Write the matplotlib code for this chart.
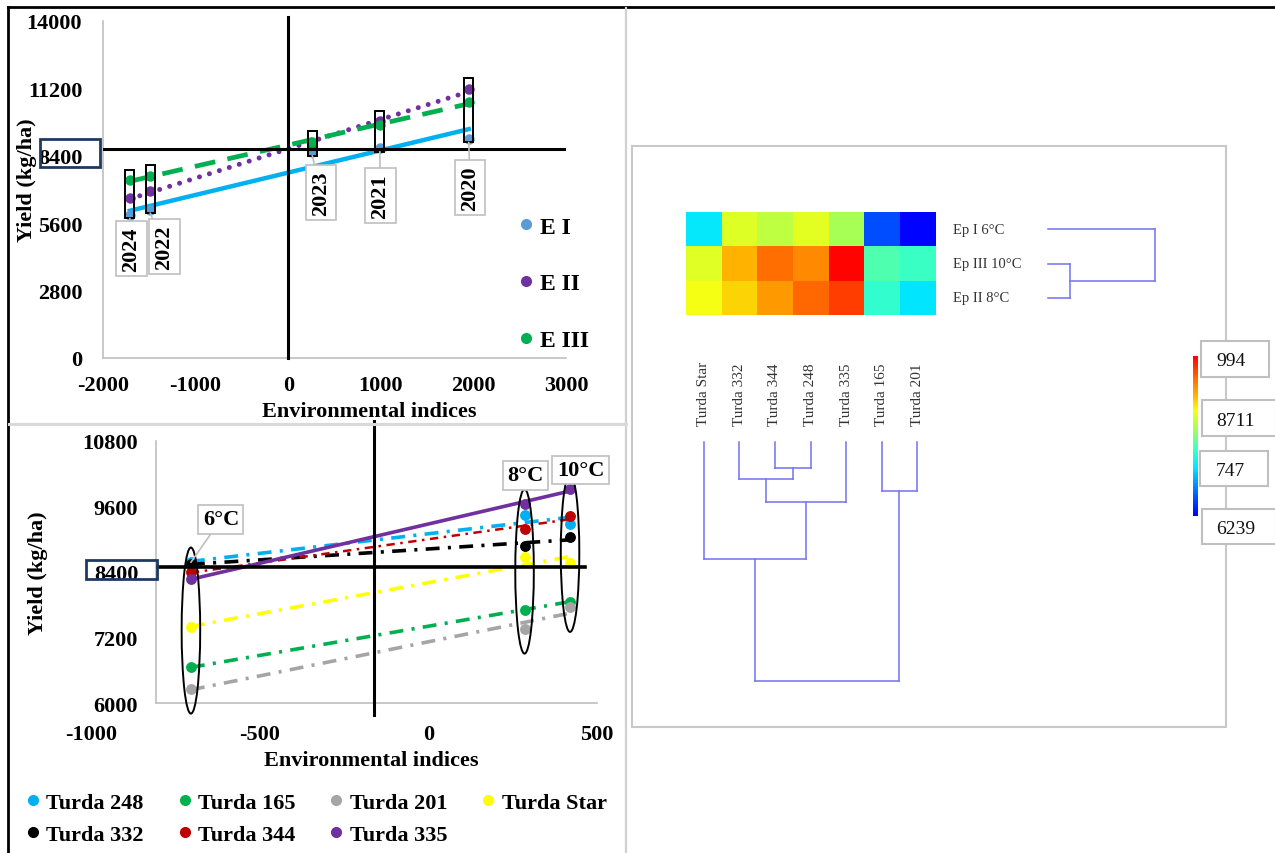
import numpy as np
import matplotlib
matplotlib.use('Agg')
import matplotlib.pyplot as plt
from matplotlib.patches import Rectangle, Ellipse
from matplotlib.lines import Line2D
from matplotlib.colors import LinearSegmentedColormap

W, H = 1275, 854
DPI = 100
plt.rcParams['font.family'] = ['Liberation Serif', 'DejaVu Serif']
plt.rcParams['font.weight'] = 'bold'
plt.rcParams['axes.unicode_minus'] = False
plt.rcParams['lines.scale_dashes'] = False

# ---------------- Data: top chart (years) ----------------
years = ['2020', '2021', '2022', '2023', '2024']
env_index_years = [1950, 990, -1490, 260, -1710]
yield_EI = [9110, 8722, 6169, 8556, 5950]
yield_EII = [11190, 9830, 6918, 8860, 6655]
yield_EIII = [10636, 9692, 7557, 8972, 7375]
top_series = ['E I', 'E II', 'E III']
top_ticks_x = [-2000, -1000, 0, 1000, 2000, 3000]
top_ticks_y = [0, 2800, 5600, 8400, 11200, 14000]
mean_top = 8694

# ---------------- Data: bottom chart (temperatures) ----------------
temps = ['6°C', '8°C', '10°C']
env_index_temp = [-705, 285, 420]
y_248 = [8575, 9441, 9276]
y_165 = [6653, 7708, 7855]
y_201 = [6256, 7354, 7751]
y_star = [7385, 8667, 8557]
y_332 = [8544, 8880, 9033]
y_344 = [8392, 9185, 9415]
y_335 = [8269, 9642, 9917]
cultivars = ['Turda 248', 'Turda 165', 'Turda 201', 'Turda Star',
             'Turda 332', 'Turda 344', 'Turda 335']
bot_ticks_x = [-1000, -500, 0, 500]
bot_ticks_y = [6000, 7200, 8400, 9600, 10800]
mean_bottom = 8490
vline_bottom = -162

# ---------------- Data: heatmap / dendrograms ----------------
heat_cols = ['Turda Star', 'Turda 332', 'Turda 344', 'Turda 248',
             'Turda 335', 'Turda 165', 'Turda 201']
heat_rows = ['Ep I 6°C', 'Ep III 10°C', 'Ep II 8°C']
heat_row_temp_idx = [0, 2, 1]
col_merges = [(2, 3, 26), (1, 7, 37), (8, 4, 60), (5, 6, 49), (0, 9, 117), (11, 10, 239)]
row_merges = [(1, 2, 22), (0, 3, 107)]
cbar_labels = ['994', '8711', '747', '6239']
vmin, vmax = 6239, 9944

# ---------------- helpers ----------------
def fx(px):
    return px / W

def fy(py):
    return 1 - py / H

fig = plt.figure(figsize=(W / DPI, H / DPI), dpi=DPI)
fig.patch.set_facecolor('white')

def fig_line(x0, y0, x1, y1, color, lw):
    fig.add_artist(Line2D([fx(x0), fx(x1)], [fy(y0), fy(y1)], color=color, lw=lw,
                          transform=fig.transFigure))

def fig_rect(x0, y0, x1, y1, ec, lw, fc='none', z=1):
    fig.add_artist(Rectangle((fx(x0), fy(y1)), (x1 - x0) / W, (y1 - y0) / H,
                             transform=fig.transFigure, fc=fc, ec=ec, lw=lw, zorder=z))

# ======================= TOP CHART =======================
ax1 = fig.add_axes([fx(103), fy(359), 463 / W, 337 / H])
for s in ['top', 'right']:
    ax1.spines[s].set_visible(False)
for s in ['left', 'bottom']:
    ax1.spines[s].set_color('#bfbfbf')
    ax1.spines[s].set_linewidth(1.2)
ax1.set_xlim(-2000, 3000)
ax1.set_ylim(0, 14000)
ax1.set_xticks(top_ticks_x)
ax1.set_yticks(top_ticks_y)
ax1.tick_params(length=0, labelsize=16)
ax1.tick_params(axis='y', pad=15)
ax1.tick_params(axis='x', pad=12)

top_data = [yield_EI, yield_EII, yield_EIII]
pt_colors = ['#5B9BD5', '#7030A0', '#00B050']
ln_colors = ['#00B0F0', '#7030A0', '#00B050']
ln_styles = [dict(ls='-'), dict(dashes=(0.01, 7.5), dash_capstyle='round'), dict(dashes=(15, 9))]
ln_widths = [3.2, 3.6, 3.4]
xs = np.array(env_index_years, dtype=float)
for ys, pc, lc, st, lw in zip(top_data, pt_colors, ln_colors, ln_styles, ln_widths):
    ax1.plot(xs, ys, 'o', color=pc, ms=6.5, zorder=3, ls='none')
    coef = np.polyfit(xs, ys, 1)
    xe = np.array([xs.min(), xs.max()])
    ax1.plot(xe, np.polyval(coef, xe), color=lc, lw=lw, zorder=2, **st)

ax1.plot([-2000, 2980], [mean_top, mean_top], color='black', lw=2.2, zorder=4)
ax1.plot([0, 0], [0, 14150], color='black', lw=2.2, zorder=4, clip_on=False)

year_label_pos = [(1965, 7072), (994, 6739), (-1339, 4638), (356, 6864), (-1695, 4534)]
for i, yr in enumerate(years):
    vals = [d[i] for d in top_data]
    x = env_index_years[i]
    ax1.add_patch(Rectangle((x - 48, min(vals) - 150), 96, max(vals) - min(vals) + 600,
                            fill=False, ec='black', lw=1.4, zorder=5))
    ax1.annotate(yr, xy=(x, min(vals) - 150), xytext=year_label_pos[i], textcoords='data',
                 rotation=90, ha='center', va='center', fontsize=16, fontweight='bold',
                 bbox=dict(boxstyle='square,pad=0.24', fc='white', ec='#bfbfbf', lw=1.2),
                 arrowprops=dict(arrowstyle='-', color='#bfbfbf', lw=1.2, shrinkA=0, shrinkB=0),
                 zorder=6)

ax1.set_xlabel('Environmental indices', fontsize=16, fontweight='bold')
ax1.xaxis.set_label_coords(0.574, -0.128)
ax1.set_ylabel('Yield (kg/ha)', fontsize=16, fontweight='bold')
ax1.yaxis.set_label_coords(-0.1425, 0.53)

top_handles = [Line2D([], [], marker='o', ls='none', color=c, ms=7) for c in pt_colors]
ax1.legend(top_handles, top_series, loc='upper left', bbox_to_anchor=(fx(520), fy(217)),
           bbox_transform=fig.transFigure, frameon=False,
           prop=dict(weight='bold', size=17), labelspacing=1.5, handlelength=0.5,
           handletextpad=0.35, borderpad=0, borderaxespad=0)

# ======================= BOTTOM CHART =======================
ax2 = fig.add_axes([fx(91.5), fy(704), 505.5 / W, 262.3 / H])
for s in ['top', 'right']:
    ax2.spines[s].set_visible(False)
for s in ['left', 'bottom']:
    ax2.spines[s].set_color('#bfbfbf')
    ax2.spines[s].set_linewidth(1.2)
ax2.spines['left'].set_position(('data', -808))
ax2.spines['bottom'].set_bounds(-808, 500)
ax2.set_xlim(-1000, 500)
ax2.set_ylim(6000, 10800)
ax2.set_xticks(bot_ticks_x)
ax2.set_yticks(bot_ticks_y)
ax2.tick_params(length=0, labelsize=16)
ax2.tick_params(axis='y', pad=13)
ax2.tick_params(axis='x', pad=15)

bot_data = [y_248, y_165, y_201, y_star, y_332, y_344, y_335]
bot_colors = ['#00B0F0', '#00B050', '#A5A5A5', '#FFFF00', '#000000', '#C00000', '#7030A0']
dashdot = (10, 6, 2.2, 6)
bot_styles = [dict(dashes=dashdot)] * 5 + [dict(dashes=(6, 4, 1.8, 4)), dict(ls='-')]
bot_widths = [2.6, 2.6, 2.6, 2.6, 2.6, 1.8, 2.6]
xt = np.array(env_index_temp, dtype=float)
for ys, c, st, lw in zip(bot_data, bot_colors, bot_styles, bot_widths):
    coef = np.polyfit(xt, ys, 1)
    xe = np.array([xt.min(), xt.max()])
    ax2.plot(xe, np.polyval(coef, xe), color=c, lw=lw, zorder=2, **st)
for ys, c in zip(bot_data, bot_colors):
    ax2.plot(xt, ys, 'o', color=c, ms=6.8, zorder=3, ls='none')

ax2.plot([-803, 464], [mean_bottom, mean_bottom], color='black', lw=2.6, zorder=4)
ax2.plot([vline_bottom, vline_bottom], [5780, 11160], color='black', lw=2.2, zorder=4, clip_on=False)

temp_label_pos = [(-616, 9358), (288, 10164), (451, 10264)]
for j, t in enumerate(temps):
    vals = [d[j] for d in bot_data]
    lo, hi = min(vals) - 450, max(vals) + 270
    ax2.add_patch(Ellipse((env_index_temp[j], (lo + hi) / 2), 55, hi - lo,
                          fill=False, ec='black', lw=1.4, zorder=5, clip_on=False))
    ax2.annotate(t, xy=(env_index_temp[j], hi if j else max(vals)), xytext=temp_label_pos[j],
                 textcoords='data', ha='center', va='center', fontsize=16, fontweight='bold',
                 bbox=dict(boxstyle='square,pad=0.2', fc='white', ec='#bfbfbf', lw=1.2),
                 arrowprops=dict(arrowstyle='-', color='#bfbfbf', lw=1.2, shrinkA=0, shrinkB=0),
                 zorder=6, annotation_clip=False)

ax2.set_xlabel('Environmental indices', fontsize=16, fontweight='bold')
ax2.xaxis.set_label_coords(0.554, -0.178)
ax2.set_ylabel('Yield (kg/ha)', fontsize=16, fontweight='bold')
ax2.yaxis.set_label_coords(-0.086, 0.5)

order = [0, 4, 1, 5, 2, 6, 3]
bot_handles = [Line2D([], [], marker='o', ls='none', color=bot_colors[i], ms=7) for i in order]
fig.legend(bot_handles, [cultivars[i] for i in order], ncol=4, loc='upper left',
           bbox_to_anchor=(fx(27), fy(793)), frameon=False,
           prop=dict(weight='bold', size=16), labelspacing=0.52, handlelength=0.5,
           handletextpad=0.35, columnspacing=1.6, borderpad=0, borderaxespad=0)

# navy boxes around the 8400 tick labels
fig_rect(40, 140, 100, 168, '#1F3A5F', 2.0, z=10)
fig_rect(86, 561, 157, 580, '#1F3A5F', 2.0, z=10)

# ======================= HEATMAP PANEL =======================
fig_rect(632, 147, 1226, 728, '#c8c8c8', 1.5)

cmap = LinearSegmentedColormap.from_list('heat', [
    (0.0, '#0000FF'), (0.12, '#0055FF'), (0.30, '#00E5FF'), (0.40, '#33FFCC'),
    (0.55, '#A8FF55'), (0.66, '#F8FF10'), (0.75, '#FFB800'), (0.86, '#FF6E00'),
    (1.0, '#FF0000')])

cult_map = dict(zip(cultivars, bot_data))
mat = np.array([[cult_map[c][ti] for c in heat_cols] for ti in heat_row_temp_idx])

axh = fig.add_axes([fx(686), fy(316), 249 / W, 103 / H])
im = axh.imshow(mat, cmap=cmap, vmin=vmin, vmax=vmax, aspect='auto',
                extent=(0, len(heat_cols), len(heat_rows), 0), interpolation='nearest')
axh.set_axis_off()
for i, r in enumerate(heat_rows):
    axh.text(len(heat_cols) + 0.5, i + 0.5, r, ha='left', va='center', fontsize=10.5,
             fontweight='normal', color='#333333')
for j, c in enumerate(heat_cols):
    axh.text(j + 0.5, 3 + 3.19, c, rotation=90, ha='center', va='bottom', fontsize=11,
             fontweight='normal', color='#333333')


def dendro_segments(merges, n):
    pos = {i: i + 0.5 for i in range(n)}
    hgt = {i: 0.0 for i in range(n)}
    segs = []
    k = n
    for a, b, h in merges:
        segs.append(([pos[a], pos[a]], [hgt[a], h]))
        segs.append(([pos[b], pos[b]], [hgt[b], h]))
        segs.append(([pos[a], pos[b]], [h, h]))
        pos[k] = (pos[a] + pos[b]) / 2
        hgt[k] = h
        k += 1
    return segs

dcol = '#7272F2'
axc = fig.add_axes([fx(686), fy(682), 249 / W, (682 - 443) / H])
axc.set_xlim(0, len(heat_cols))
axc.set_ylim(max(m[2] for m in col_merges), 0)
axc.set_axis_off()
for p, h in dendro_segments(col_merges, len(heat_cols)):
    axc.plot(p, h, color=dcol, lw=1.1, clip_on=False)

axr = fig.add_axes([fx(1048), fy(316), (1155 - 1048) / W, 103 / H])
axr.set_xlim(0, max(m[2] for m in row_merges))
axr.set_ylim(len(heat_rows), 0)
axr.set_axis_off()
for p, h in dendro_segments(row_merges, len(heat_rows)):
    axr.plot(h, p, color=dcol, lw=1.1, clip_on=False)

cax = fig.add_axes([fx(1193), fy(517), 5 / W, 160 / H])
cb = fig.colorbar(im, cax=cax)
cb.set_ticks([])
cb.outline.set_visible(False)

cb_boxes = [(1201, 342, 1269, 378), (1202, 401, 1276, 437), (1200, 452, 1268, 487), (1202, 510, 1276, 545)]
cb_text_y = [362, 422, 472, 529]
for lab, (x0, y0, x1, y1), ty in zip(cbar_labels, cb_boxes, cb_text_y):
    fig_rect(x0, y0, x1, y1, '#bfbfbf', 1.5, fc='white', z=5)
    fig.text(fx(1216), fy(ty), lab, ha='left', va='center', fontsize=14, fontweight='normal',
             color='#111111', zorder=6)

# ======================= frame / separators =======================
fig_line(8, 8, 1275, 8, 'black', 2.0)
fig_line(8, 8, 8, 854, 'black', 2.0)
fig_line(626, 9, 626, 854, '#d0d0d0', 1.6)
fig_line(9, 425, 626, 425, '#d9d9d9', 2.2)

fig.savefig('out.png', dpi=DPI, facecolor='white')
